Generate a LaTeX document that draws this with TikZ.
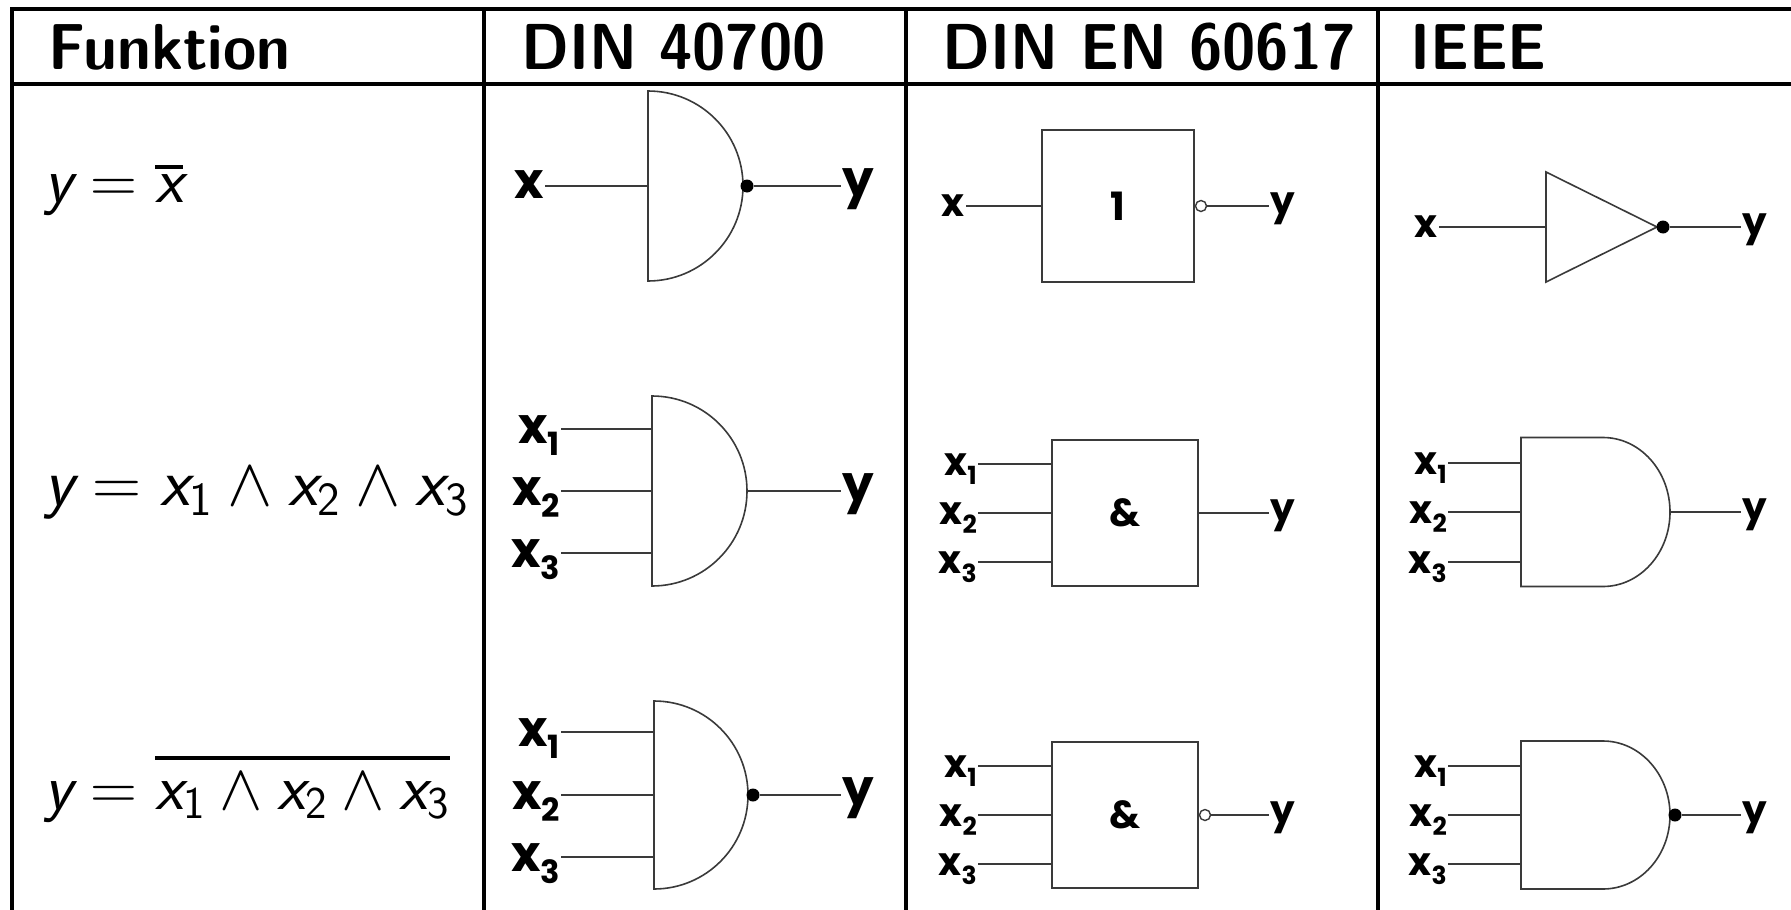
\RequirePackage{fix-cm}
\documentclass[tikz,border=0pt]{standalone}
\usepackage{amsmath}
\usepackage{fontspec}
\usepackage{graphicx}
\newfontfamily\gatefont{Poppins}
\definecolor{gateclr}{HTML}{3A3A3A}
\newcommand\va[1]{\textsf{\itshape #1}}
\newcommand\vb[1]{\textsf{#1}}
\newcommand\xs[1]{x\raisebox{-0.24em}{\scalebox{0.64}{#1}}}
\newcommand\ovl[2]{\vbox{\hrule height 3.6pt\kern #2\hbox{$#1$}}}
\newcommand\hd[1]{\scalebox{0.93}[1]{#1}}
\tikzset{
  tbl/.style={line width=4pt, draw=black},
  gate/.style={line width=1.6pt, draw=gateclr},
  wire/.style={line width=1.6pt, draw=gateclr},
  hdr/.style={anchor=base west, inner sep=0pt, font=\sffamily\bfseries\fontsize{65}{65}\selectfont},
  fml/.style={anchor=base west, inner sep=0pt, font=\fontsize{65}{66}\selectfont},
  labA/.style={inner sep=1pt, font=\gatefont\bfseries\fontsize{50}{50}\selectfont},
  labB/.style={inner sep=1pt, font=\gatefont\bfseries\fontsize{39}{39}\selectfont},
  bub/.style={circle, fill=black, inner sep=0pt, minimum size=13pt},
  obub/.style={circle, draw=gateclr, fill=white, line width=1.4pt, inner sep=0pt, minimum size=11pt},
  ebox/.style={draw=gateclr, line width=1.6pt, inner sep=0pt, minimum width=146pt, minimum height=146pt, font=\gatefont\bfseries\fontsize{39}{39}\selectfont},
}
\begin{document}
\begin{tikzpicture}[x=1pt,y=-1pt]
\useasboundingbox (0,0) rectangle (1791,910);
% ---- table ----
\draw[tbl] (12,912) -- (12,9) -- (1795,9);
\draw[tbl] (12,84) -- (1795,84);
\draw[tbl] (484,9) -- (484,912);
\draw[tbl] (906,9) -- (906,912);
\draw[tbl] (1378,9) -- (1378,912);
% ---- headers ----
\node[hdr] (h1) at (48,69) {\hd{Funktion}};
\node[hdr] (h2) at (521,69) {\hd{DIN 40700}};
\node[hdr] (h3) at (942,69) {\hd{DIN EN 60617}};
\node[hdr] (h4) at (1410,69) {\hd{IEEE}};
% ---- formulas ----
\node[fml] (f1) at (44,202) {$\va{y} = \ovl{\va{x}}{5pt}$};
\node[fml, font=\fontsize{68}{68}\selectfont] (f2) at (44,505) {$\va{y} = \va{x}_{\vb{1}} \wedge \va{x}_{\vb{2}} \wedge \va{x}_{\vb{3}}$};
\node[fml] (f3) at (44,809) {$\va{y} = \ovl{\va{x}_{\vb{1}} \wedge \va{x}_{\vb{2}} \wedge \va{x}_{\vb{3}}}{13pt}$};
% ================= DIN 40700 =================
% row 1 NOT
\draw[gate] (648,91) .. controls (700.5,91) and (743,133.5) .. (743,186) .. controls (743,238.5) and (700.5,281) .. (648,281) -- cycle;
\coordinate (d1i) at (648,186);
\node[bub] (d1b) at (747,186) {};
\node[labA, anchor=base east] (d1x) at (545,198) {x};
\node[labA, anchor=base west] (d1y) at (841,196) {y};
\draw[wire] (d1x.east |- d1i) -- (d1i);
\draw[wire] (d1b) -- (d1y.west |- d1b);
% row 2 AND
\draw[gate] (652,396) .. controls (704.5,396) and (747,438.5) .. (747,491) .. controls (747,543.5) and (704.5,586) .. (652,586) -- cycle;
\coordinate (d2o) at (747,491);
\coordinate (d2i1) at (652,429);
\coordinate (d2i2) at (652,491);
\coordinate (d2i3) at (652,553);
\node[labA, anchor=base east] (d2x1) at (561,443) {\xs{1}};
\node[labA, anchor=base east] (d2x2) at (561,505) {\xs{2}};
\node[labA, anchor=base east] (d2x3) at (561,567) {\xs{3}};
\node[labA, anchor=base west] (d2y) at (841,501) {y};
\draw[wire] (d2x1.east |- d2i1) -- (d2i1);
\draw[wire] (d2x2.east |- d2i2) -- (d2i2);
\draw[wire] (d2x3.east |- d2i3) -- (d2i3);
\draw[wire] (d2o) -- (d2y.west |- d2o);
% row 3 NAND
\draw[gate] (654,701) .. controls (705.9,701) and (748,743.1) .. (748,795) .. controls (748,846.9) and (705.9,889) .. (654,889) -- cycle;
\node[bub] (d3b) at (753,795) {};
\coordinate (d3i1) at (654,732);
\coordinate (d3i2) at (654,795);
\coordinate (d3i3) at (654,857);
\node[labA, anchor=base east] (d3x1) at (561,746) {\xs{1}};
\node[labA, anchor=base east] (d3x2) at (561,809) {\xs{2}};
\node[labA, anchor=base east] (d3x3) at (561,871) {\xs{3}};
\node[labA, anchor=base west] (d3y) at (841,805) {y};
\draw[wire] (d3x1.east |- d3i1) -- (d3i1);
\draw[wire] (d3x2.east |- d3i2) -- (d3i2);
\draw[wire] (d3x3.east |- d3i3) -- (d3i3);
\draw[wire] (d3b) -- (d3y.west |- d3b);
% ================= DIN EN 60617 =================
% row 1
\node[ebox, minimum width=152pt, minimum height=152pt] (e1) at (1118,206) {1};
\node[obub, anchor=west] (e1b) at (e1.east) {};
\node[labB, anchor=base east] (e1x) at (966,216) {x};
\node[labB, anchor=base west] (e1y) at (1269,214) {y};
\draw[wire] (e1x.east |- e1.west) -- (e1.west);
\draw[wire] (e1b.east) -- (e1y.west |- e1b);
% row 2
\node[ebox] (e2) at (1125,513) {\&};
\coordinate (e2i1) at (1052,464);
\coordinate (e2i2) at (1052,513);
\coordinate (e2i3) at (1052,562);
\node[labB, anchor=base east] (e2x1) at (978,475) {\xs{1}};
\node[labB, anchor=base east] (e2x2) at (978,524) {\xs{2}};
\node[labB, anchor=base east] (e2x3) at (978,573) {\xs{3}};
\node[labB, anchor=base west] (e2y) at (1269,521) {y};
\draw[wire] (e2x1.east |- e2i1) -- (e2i1);
\draw[wire] (e2x2.east |- e2i2) -- (e2i2);
\draw[wire] (e2x3.east |- e2i3) -- (e2i3);
\draw[wire] (e2.east) -- (e2y.west |- e2.east);
% row 3
\node[ebox] (e3) at (1125,815) {\&};
\node[obub, anchor=west] (e3b) at (e3.east) {};
\coordinate (e3i1) at (1052,766);
\coordinate (e3i2) at (1052,815);
\coordinate (e3i3) at (1052,864);
\node[labB, anchor=base east] (e3x1) at (978,777) {\xs{1}};
\node[labB, anchor=base east] (e3x2) at (978,826) {\xs{2}};
\node[labB, anchor=base east] (e3x3) at (978,875) {\xs{3}};
\node[labB, anchor=base west] (e3y) at (1269,823) {y};
\draw[wire] (e3x1.east |- e3i1) -- (e3i1);
\draw[wire] (e3x2.east |- e3i2) -- (e3i2);
\draw[wire] (e3x3.east |- e3i3) -- (e3i3);
\draw[wire] (e3b.east) -- (e3y.west |- e3b);
% ================= IEEE =================
% row 1 NOT
\draw[gate] (1546,172) -- (1657,227) -- (1546,282) -- cycle;
\coordinate (i1i) at (1546,227);
\node[bub] (i1b) at (1663,227) {};
\node[labB, anchor=base east] (i1x) at (1439,237) {x};
\node[labB, anchor=base west] (i1y) at (1741,235) {y};
\draw[wire] (i1x.east |- i1i) -- (i1i);
\draw[wire] (i1b) -- (i1y.west |- i1b);
% row 2 AND
\draw[gate] (1521,437.5) -- (1603,437.5) .. controls (1640,437.5) and (1670,471) .. (1670,512) .. controls (1670,553) and (1640,586.5) .. (1603,586.5) -- (1521,586.5) -- cycle;
\coordinate (i2o) at (1670,512);
\coordinate (i2i1) at (1521,463);
\coordinate (i2i2) at (1521,512);
\coordinate (i2i3) at (1521,562);
\node[labB, anchor=base east] (i2x1) at (1448,474) {\xs{1}};
\node[labB, anchor=base east] (i2x2) at (1448,523) {\xs{2}};
\node[labB, anchor=base east] (i2x3) at (1448,573) {\xs{3}};
\node[labB, anchor=base west] (i2y) at (1741,520) {y};
\draw[wire] (i2x1.east |- i2i1) -- (i2i1);
\draw[wire] (i2x2.east |- i2i2) -- (i2i2);
\draw[wire] (i2x3.east |- i2i3) -- (i2i3);
\draw[wire] (i2o) -- (i2y.west |- i2o);
% row 3 NAND
\draw[gate] (1521,741) -- (1603,741) .. controls (1640,741) and (1670,774.5) .. (1670,815) .. controls (1670,856) and (1640,889) .. (1603,889) -- (1521,889) -- cycle;
\node[bub] (i3b) at (1675,815) {};
\coordinate (i3i1) at (1521,766);
\coordinate (i3i2) at (1521,815);
\coordinate (i3i3) at (1521,864);
\node[labB, anchor=base east] (i3x1) at (1448,777) {\xs{1}};
\node[labB, anchor=base east] (i3x2) at (1448,826) {\xs{2}};
\node[labB, anchor=base east] (i3x3) at (1448,875) {\xs{3}};
\node[labB, anchor=base west] (i3y) at (1741,823) {y};
\draw[wire] (i3x1.east |- i3i1) -- (i3i1);
\draw[wire] (i3x2.east |- i3i2) -- (i3i2);
\draw[wire] (i3x3.east |- i3i3) -- (i3i3);
\draw[wire] (i3b) -- (i3y.west |- i3b);
\end{tikzpicture}
\end{document}
